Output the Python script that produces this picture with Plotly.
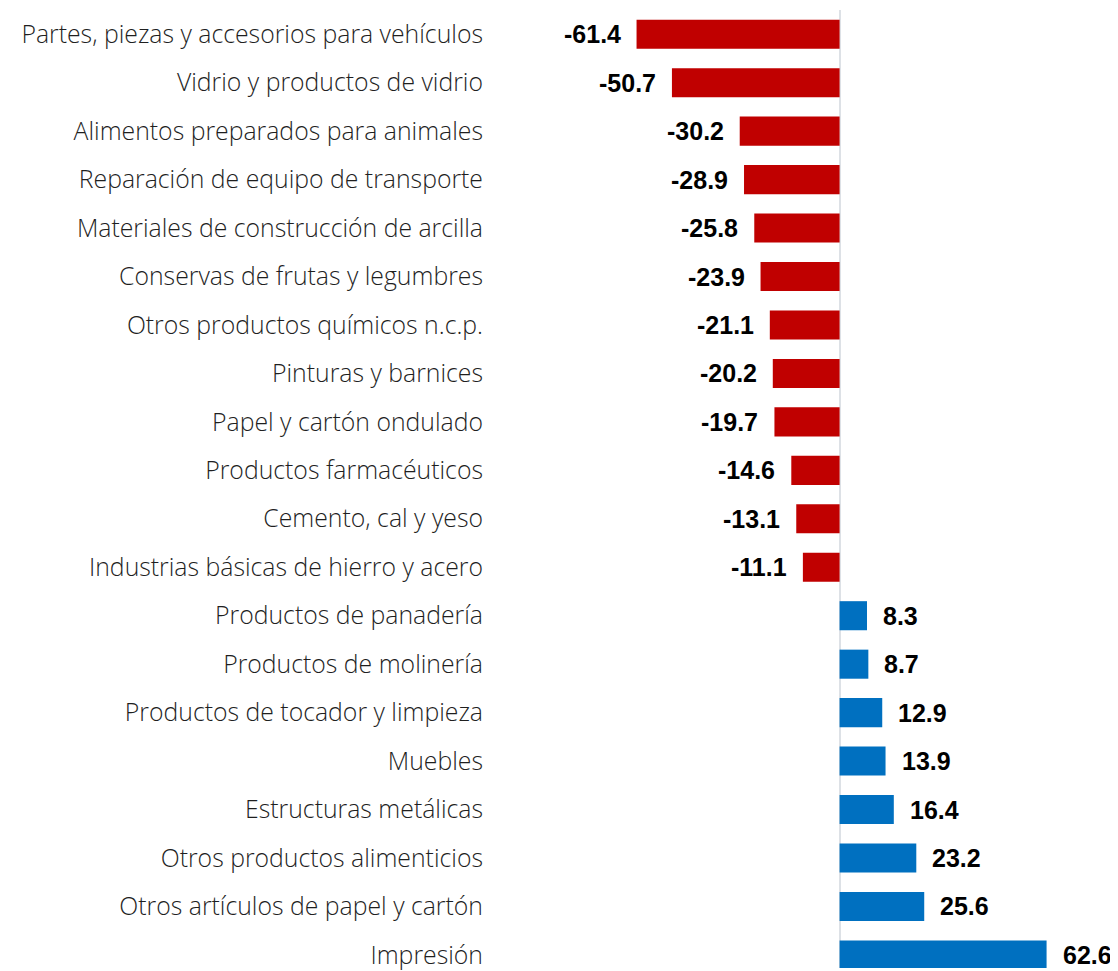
import plotly.graph_objects as go

categories = [
    "Partes, piezas y accesorios para vehículos",
    "Vidrio y productos de vidrio",
    "Alimentos preparados para animales",
    "Reparación de equipo de transporte",
    "Materiales de construcción de arcilla",
    "Conservas de frutas y legumbres",
    "Otros productos químicos n.c.p.",
    "Pinturas y barnices",
    "Papel y cartón ondulado",
    "Productos farmacéuticos",
    "Cemento, cal y yeso",
    "Industrias básicas de hierro y acero",
    "Productos de panadería",
    "Productos de molinería",
    "Productos de tocador y limpieza",
    "Muebles",
    "Estructuras metálicas",
    "Otros productos alimenticios",
    "Otros artículos de papel y cartón",
    "Impresión",
]
values = [
    -61.4, -50.7, -30.2, -28.9, -25.8, -23.9, -21.1, -20.2, -19.7, -14.6,
    -13.1, -11.1, 8.3, 8.7, 12.9, 13.9, 16.4, 23.2, 25.6, 62.6,
]

RED = "#C00000"
BLUE = "#0070C0"
colors = [RED if v < 0 else BLUE for v in values]

fig = go.Figure()
fig.add_trace(
    go.Bar(
        x=values,
        y=categories,
        orientation="h",
        marker=dict(color=colors, line=dict(width=0)),
        width=0.6,
        hoverinfo="x+y",
    )
)

for cat, v in zip(categories, values):
    fig.add_annotation(
        x=v,
        y=cat,
        text=f"{v:.1f}",
        showarrow=False,
        xanchor="right" if v < 0 else "left",
        xshift=-14 if v < 0 else 14,
        font=dict(family="Liberation Sans, Arial", size=25, color="#000000", weight="bold"),
    )

# page body has an 8px margin, so the figure is 8px smaller than the window
fig.update_layout(
    width=1110,
    height=963,
    margin=dict(l=532, r=0, t=2, b=0),
    plot_bgcolor="white",
    paper_bgcolor="white",
    showlegend=False,
    xaxis=dict(
        range=[-90.6, 84.2],
        showgrid=False,
        showticklabels=False,
        zeroline=True,
        zerolinecolor="#dde1e6",
        zerolinewidth=2,
        fixedrange=True,
    ),
    yaxis=dict(
        type="category",
        range=[19.27, -0.5],
        showgrid=False,
        ticks="",
        ticklabelstandoff=56,
        tickfont=dict(family="Open Sans", size=24.8, color="#1f1f1f", weight=300),
        fixedrange=True,
    ),
)

fig.write_html("out.html")
